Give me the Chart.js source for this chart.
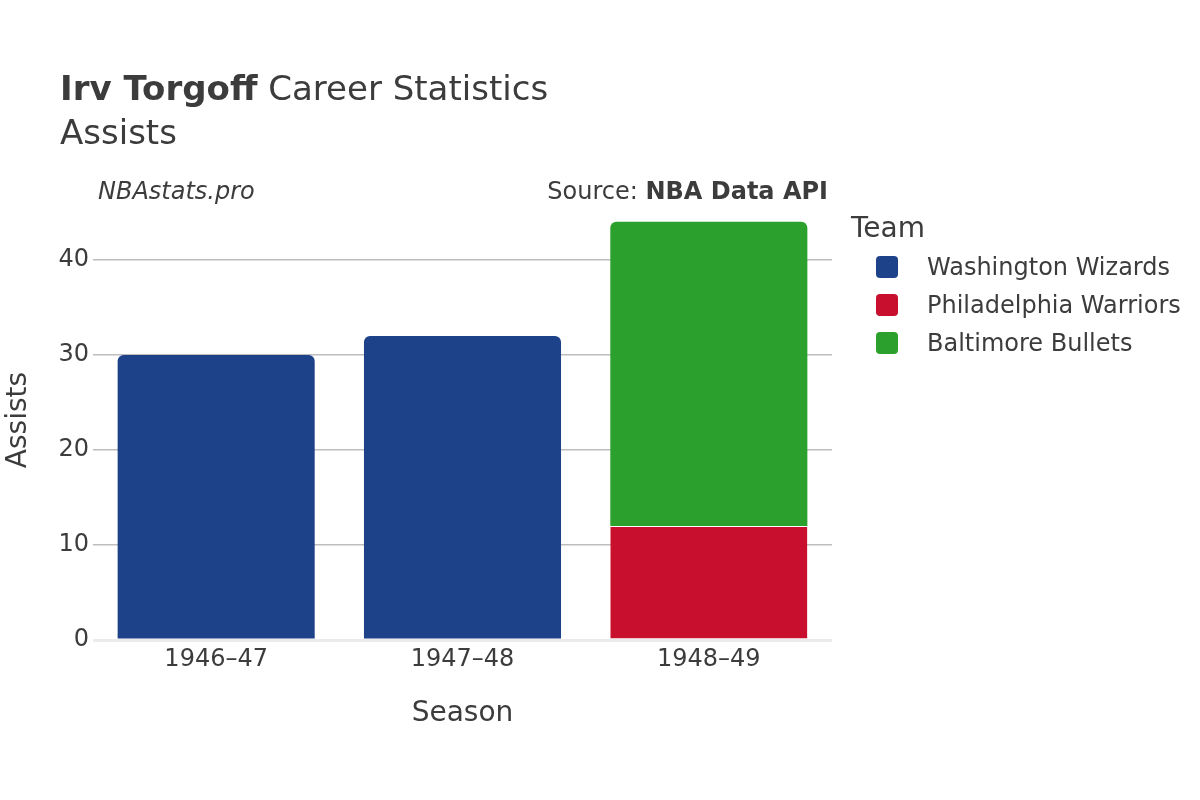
<!DOCTYPE html>
<html>
<head>
<meta charset="utf-8">
<script src="https://cdn.jsdelivr.net/npm/chart.js@4/dist/chart.umd.min.js"></script>
<style>
  body { margin: 0; background: #fff; }
  #wrap { position: relative; width: 1200px; height: 800px; font-family: "DejaVu Sans", sans-serif; color: #3c3c3c; }
  #wrap canvas { position: absolute; left: 0; top: 0; }
  .txt { position: absolute; white-space: nowrap; line-height: 1; }
  #legend { position: absolute; left: 851px; top: 211px; }
  .leg-title { font-size: 28px; margin-bottom: 4px; }
  .leg-item { display: flex; align-items: center; height: 38px; font-size: 24px; margin-left: 25px; }
  .leg-box { width: 22px; height: 22px; border-radius: 4px; margin-right: 29px; }
</style>
</head>
<body>
<div id="wrap">
  <canvas id="chart" width="1200" height="800"></canvas>
  <div class="txt" style="left:60px; top:71px; font-size:34px;"><b>Irv Torgoff</b> Career Statistics</div>
  <div class="txt" style="left:60px; top:115px; font-size:34px;">Assists</div>
  <div class="txt" style="left:98px; top:179px; font-size:24px; font-style:italic;">NBAstats.pro</div>
  <div class="txt" style="right:372px; top:179px; font-size:24px;">Source: <b>NBA Data API</b></div>
  <div id="legend"></div>
</div>
<script>
// Assists per season, split by team
const seasons = ['1946–47', '1947–48', '1948–49'];
const teams = ['Washington Wizards', 'Philadelphia Warriors', 'Baltimore Bullets'];
const teamColors = ['#1d428a', '#c8102e', '#2ca02c'];
const wizardsAssists = [30, 32, null];
const warriorsAssists = [null, null, 12];
const bulletsAssists = [null, null, 32];
const yTicks = [0, 10, 20, 30, 40];

const teamValues = [wizardsAssists, warriorsAssists, bulletsAssists];

// the top segment of each stack gets the rounded corners
function isTopOfStack(ctx) {
    for (let d = ctx.datasetIndex + 1; d < teamValues.length; d++) {
        if (teamValues[d][ctx.dataIndex]) return false;
    }
    return true;
}

const datasets = teams.map((team, i) => ({
    label: team,
    data: teamValues[i],
    backgroundColor: teamColors[i],
    borderColor: 'rgba(255,255,255,0.8)',
    borderWidth: ctx => isTopOfStack(ctx) ? 0 : {top: 1, left: 0, right: 0, bottom: 0},
    borderSkipped: 'start',
    borderRadius: ctx => isTopOfStack(ctx) ? {topLeft: 6, topRight: 6} : 0,
    barPercentage: 0.8,
    categoryPercentage: 1
}));

const chartFont = { family: '"DejaVu Sans", sans-serif' };
const textColor = '#3c3c3c';

new Chart(document.getElementById('chart'), {
    type: 'bar',
    data: { labels: seasons, datasets: datasets },
    options: {
        responsive: false,
        animation: false,
        layout: { padding: { left: 0, right: 368, top: 200, bottom: 68 } },
        plugins: {
            legend: { display: false },
            tooltip: { enabled: false }
        },
        scales: {
            x: {
                stacked: true,
                grid: { display: false },
                border: { display: false },
                ticks: { color: textColor, font: { ...chartFont, size: 24 }, padding: -3 },
                title: {
                    display: true,
                    text: 'Season',
                    color: textColor,
                    font: { ...chartFont, size: 28 },
                    padding: { top: 0, bottom: 1 }
                },
                afterFit: scale => { scale.height = 92; }
            },
            y: {
                stacked: true,
                min: 0,
                max: 46.3,
                border: { display: false },
                grid: {
                    drawTicks: false,
                    color: ctx => ctx.tick && ctx.tick.value === 0 ? '#ebebeb' : '#bdbdbd',
                    lineWidth: ctx => ctx.tick && ctx.tick.value === 0 ? 3 : 1.5
                },
                afterBuildTicks: scale => { scale.ticks = yTicks.map(v => ({ value: v })); },
                ticks: { color: textColor, font: { ...chartFont, size: 24 }, padding: 4 },
                title: {
                    display: true,
                    text: 'Assists',
                    color: textColor,
                    font: { ...chartFont, size: 28 },
                    padding: { top: 2, bottom: 0 }
                },
                afterFit: scale => { scale.width = 93; }
            }
        }
    }
});

// legend built from the same team lists
const legend = document.getElementById('legend');
legend.innerHTML = '<div class="leg-title">Team</div>' + teams.map((t, i) =>
    '<div class="leg-item"><span class="leg-box" style="background:' + teamColors[i] + '"></span>' + t + '</div>'
).join('');
</script>
</body>
</html>
